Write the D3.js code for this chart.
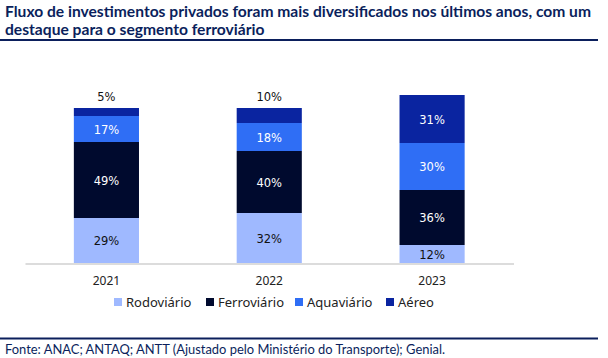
<!DOCTYPE html>
<html><head><meta charset="utf-8">
<script src="https://cdn.jsdelivr.net/npm/d3@7"></script>
<style>body{margin:0;background:#fff}svg{display:block}</style>
</head><body>
<svg id="c" width="608" height="358"></svg>
<script>
const years = ["2021", "2022", "2023"];
const seriesNames = ["Rodoviário", "Ferroviário", "Aquaviário", "Aéreo"];
// estimated absolute values (bar heights)
const rodoviario = [45, 50, 18];
const ferroviario = [76, 62, 55];
const aquaviario = [26, 28, 47];
const aereo = [8, 15, 48];
// printed labels
const rodoLabels = ["29%", "32%", "12%"];
const ferroLabels = ["49%", "40%", "36%"];
const aquaLabels = ["17%", "18%", "30%"];
const aereoLabels = ["5%", "10%", "31%"];
const titleLines = ["Fluxo de investimentos privados foram mais diversificados nos últimos anos, com um", "destaque para o segmento ferroviário"];
const source = "Fonte: ANAC; ANTAQ; ANTT (Ajustado pelo Ministério do Transporte); Genial.";

const colors = ["#9fb9ff", "#000a2e", "#2f6ef5", "#0a24a0"];
const labelColors = ["#111", "#fff", "#fff", "#fff"];
const values = [rodoviario, ferroviario, aquaviario, aereo];
const labels = [rodoLabels, ferroLabels, aquaLabels, aereoLabels];

const svg = d3.select("#c");
const navy = "#0b1f5c";

// title
const tfont = "'Lato','Roboto',sans-serif";
const t = svg.append("g");
titleLines.forEach((l, i) => {
  t.append("text").attr("x", 5).attr("y", 16.5 + i * 18).text(l)
    .attr("font-family", tfont).attr("font-weight", "bold").attr("font-size", 16).attr("fill", navy);
});
// condense to match the narrow original face
const tn = t.selectAll("text").nodes();
const ratio = 586 / tn[0].getComputedTextLength();
tn.forEach(n => {
  const w = n.getComputedTextLength();
  d3.select(n).attr("textLength", w * ratio).attr("lengthAdjust", "spacingAndGlyphs");
});

svg.append("line").attr("x1", 0).attr("x2", 598).attr("y1", 40).attr("y2", 40).attr("stroke", navy).attr("stroke-width", 2);
svg.append("line").attr("x1", 0).attr("x2", 598).attr("y1", 338.5).attr("y2", 338.5).attr("stroke", navy).attr("stroke-width", 2);

const x = d3.scaleBand().domain(years).range([25, 513.5]).paddingInner(0.6).paddingOuter(0.3);
const y = d3.scaleLinear().domain([0, 170]).range([263, 93]);

const stackData = years.map((yr, i) => {
  const o = {year: yr};
  seriesNames.forEach((s, k) => o[s] = values[k][i]);
  return o;
});
const stack = d3.stack().keys(seriesNames)(stackData);

const lfont = "'DejaVu Sans',sans-serif";
stack.forEach((layer, k) => {
  const g = svg.append("g");
  g.selectAll("rect").data(layer).join("rect")
    .attr("x", d => x(d.data.year)).attr("width", x.bandwidth())
    .attr("y", d => y(d[1])).attr("height", d => y(d[0]) - y(d[1]))
    .attr("fill", colors[k]);
  g.selectAll("text").data(layer).join("text")
    .attr("x", d => x(d.data.year) + x.bandwidth() / 2)
    .attr("y", (d, i) => {
      const h = y(d[0]) - y(d[1]);
      if (h < 18) return y(d[1]) - 7;
      return (y(d[0]) + y(d[1])) / 2 + 4.5;
    })
    .attr("text-anchor", "middle").attr("font-family", lfont).attr("font-size", 11.5)
    .attr("fill", d => (y(d[0]) - y(d[1]) < 18) ? "#111" : labelColors[k])
    .text((d, i) => labels[k][i]);
});

// axis
const ax = svg.append("g").attr("transform", "translate(0,263.5)")
  .call(d3.axisBottom(x).tickSize(0).tickPadding(13));
ax.select(".domain").attr("stroke", "#d0d0d0").attr("stroke-width", 1.3);
ax.selectAll("text").attr("font-family", "'Noto Sans',sans-serif").attr("font-size", 12).attr("fill", "#222");

// legend
const legX = [114, 206, 295, 386];
const lg = svg.append("g");
seriesNames.forEach((s, k) => {
  lg.append("rect").attr("x", legX[k]).attr("y", 298).attr("width", 8).attr("height", 8).attr("fill", colors[k]);
  lg.append("text").attr("x", legX[k] + 12).attr("y", 306.5).text(s)
    .attr("font-family", "'Noto Sans',sans-serif").attr("font-size", 13).attr("fill", "#222");
});

// source
const st = svg.append("text").attr("x", 5).attr("y", 354).text(source)
  .attr("font-family", tfont).attr("font-size", 14).attr("fill", navy);
st.attr("textLength", 440).attr("lengthAdjust", "spacingAndGlyphs");
</script>
</body></html>
